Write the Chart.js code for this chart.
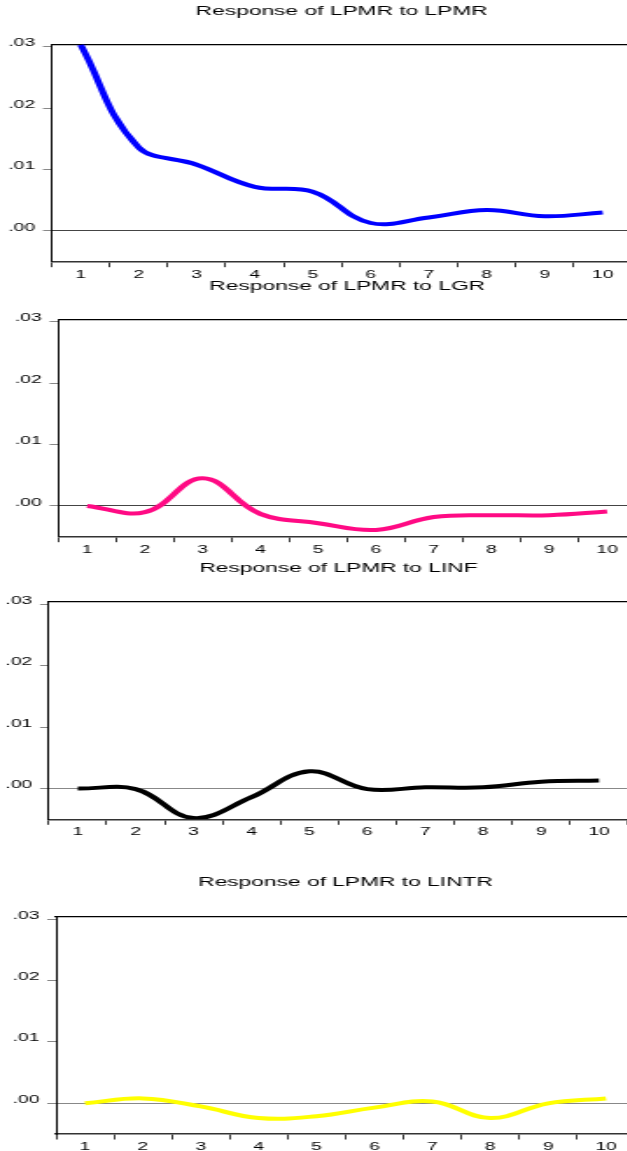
<!DOCTYPE html>
<html>
<head>
<meta charset="utf-8">
<script src="https://cdn.jsdelivr.net/npm/chart.js@4.4.1/dist/chart.umd.min.js"></script>
<style>
html, body { margin:0; padding:0; background:#fff; overflow:hidden; width:627px; height:1151px; }
.panel { position:absolute; left:0; transform-origin:0 0; }
canvas { display:block; }
</style>
</head>
<body>
<div class="panel" id="p0"><canvas id="c0"></canvas></div>
<div class="panel" id="p1"><canvas id="c1"></canvas></div>
<div class="panel" id="p2"><canvas id="c2"></canvas></div>
<div class="panel" id="p3"><canvas id="c3"></canvas></div>
<script>
// ---- data ----
const categories = ['1','2','3','4','5','6','7','8','9','10'];
const yTicks = [0, 0.01, 0.02, 0.03];
const yMin = -0.005;
const yMax = 0.0304;
const titles = [
  'Response of LPMR to LPMR',
  'Response of LPMR to LGR',
  'Response of LPMR to LINF',
  'Response of LPMR to LINTR'
];
const respLPMR  = [0.0303, 0.0136, 0.0108, 0.0072, 0.0064, 0.0013, 0.0022, 0.0034, 0.0024, 0.0030];
const respLGR   = [0.0000, -0.0010, 0.0045, -0.0013, -0.0028, -0.0039, -0.0018, -0.0015, -0.0015, -0.0009];
const respLINF  = [0.0000, -0.0001, -0.0048, -0.0014, 0.0028, -0.0001, 0.0002, 0.0002, 0.0011, 0.0013];
const respLINTR = [0.0000, 0.0008, -0.0005, -0.0024, -0.0021, -0.0007, 0.0003, -0.0024, 0.0000, 0.0008];
const seriesList = [respLPMR, respLGR, respLINF, respLINTR];
const lineColors = ['#0000FF', '#FF0A84', '#000000', '#FFFF00'];

// ---- layout (page pixels; image is horizontally stretched) ----
const SX = 1.75;
const W0 = 366;
const FONT = '"Liberation Sans", Arial, Helvetica, sans-serif';
const frames = [
  { zero:'#444', titleY:11,    top:44.3,  bottom:261.7,  left:51.7, right:631.7 },
  { zero:'#444', titleY:286,   top:319.3, bottom:536.7,  left:58.3, right:636 },
  { zero:'#888', titleY:568.3, top:601.7, bottom:819.3,  left:48.8, right:628 },
  { zero:'#888', titleY:882.7, top:916.7, bottom:1134,   left:56,   right:635 }
];

frames.forEach((f, i) => {
  const canvasTop = Math.round(f.titleY - 11);
  const canvasH = Math.round(f.bottom - canvasTop + 22);
  const xAxisH = canvasH - (f.bottom - canvasTop);
  const wrap = document.getElementById('p' + i);
  wrap.style.top = canvasTop + 'px';
  wrap.style.transform = 'scaleX(' + SX + ')';
  const cv = document.getElementById('c' + i);
  cv.width = W0; cv.height = canvasH;
  cv.style.width = W0 + 'px'; cv.style.height = canvasH + 'px';
  const titleLH = 13 * 1.2;
  const tPadTop = f.titleY - canvasTop - titleLH / 2;
  const tPadBottom = f.top - f.titleY - titleLH / 2;

  new Chart(cv, {
    type: 'line',
    data: {
      labels: categories,
      datasets: [{
        data: seriesList[i],
        borderColor: lineColors[i],
        borderWidth: 4,
        pointRadius: 0,
        tension: 0.4,
        fill: false,
        xAxisID: 'x',
        yAxisID: 'y'
      }]
    },
    options: {
      responsive: false,
      animation: false,
      devicePixelRatio: 1,
      layout: { padding: { left: 0, right: W0 - f.right / SX, top: 0, bottom: 0 } },
      plugins: {
        legend: { display: false },
        tooltip: { enabled: false },
        title: {
          display: true,
          text: titles[i],
          fullSize: false,
          color: '#000',
          font: { family: FONT, size: 13, weight: 'normal' },
          padding: { top: tPadTop, bottom: tPadBottom }
        }
      },
      scales: {
        x: {
          type: 'category',
          position: 'bottom',
          offset: true,
          grid: { display: true, drawOnChartArea: false, offset: true, tickLength: 5.5, tickColor: '#333', lineWidth: 1 },
          border: { display: true, color: '#333', width: 1.5 },
          ticks: { color: '#000', font: { family: FONT, size: 11 }, padding: 1, maxRotation: 0, autoSkip: false },
          afterFit: s => { s.height = xAxisH; }
        },
        x2: {
          type: 'category',
          position: 'top',
          display: true,
          grid: { display: false },
          ticks: { display: false },
          border: { display: true, color: '#000', width: 1.3 },
          afterFit: s => { s.height = 0; }
        },
        y: {
          type: 'linear',
          min: yMin,
          max: yMax,
          afterBuildTicks: s => { s.ticks = yTicks.map(v => ({ value: v })); },
          grid: {
            display: true,
            drawOnChartArea: true,
            color: c => (c.tick && c.tick.value === 0) ? f.zero : 'rgba(0,0,0,0)',
            tickColor: '#888',
            tickLength: 5,
            lineWidth: 1
          },
          border: { display: true, color: '#000', width: 1 },
          ticks: {
            color: '#000',
            font: { family: FONT, size: 11 },
            padding: 4.5,
            labelOffset: -3.5,
            callback: v => v.toFixed(2).replace(/^0\./, '.')
          },
          afterFit: s => { s.width = f.left / SX; }
        }
      }
    }
  });
});
</script>
</body>
</html>
